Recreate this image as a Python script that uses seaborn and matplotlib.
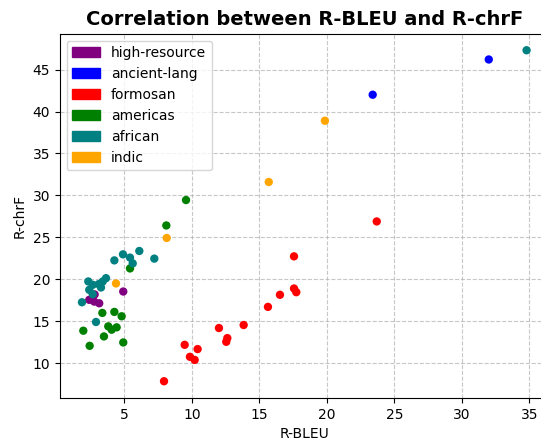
import matplotlib
matplotlib.use("Agg")
import matplotlib.pyplot as plt
from matplotlib.patches import Patch
import seaborn as sns
import pandas as pd

categories = ["high-resource", "ancient-lang", "formosan", "americas", "african", "indic"]
colors = ["purple", "blue", "red", "green", "teal", "orange"]

high_resource_x = [4.92, 2.40, 2.77, 3.14, 2.80]
high_resource_y = [18.55, 17.56, 17.35, 17.15, 18.2]

ancient_x = [32.0, 23.4]
ancient_y = [46.2, 42.0]

formosan_x = [23.7, 17.57, 16.53, 15.64, 17.57, 17.74, 12.01, 13.84, 12.63, 12.55, 9.47, 10.43, 9.86, 10.21, 7.94]
formosan_y = [26.9, 22.74, 18.16, 16.72, 18.91, 18.47, 14.2, 14.56, 13.0, 12.56, 12.2, 11.69, 10.77, 10.4, 7.86]

americas_x = [9.57, 8.11, 5.42, 3.37, 4.26, 4.80, 3.81, 4.06, 4.43, 3.49, 4.92, 1.96, 2.43]
americas_y = [29.45, 26.42, 21.3, 16.0, 16.12, 15.6, 14.4, 14.0, 14.28, 13.2, 12.48, 13.88, 12.08]

african_x = [34.8, 7.22, 4.90, 4.26, 6.11, 5.42, 5.62, 2.33, 2.66, 3.10, 3.40, 3.64, 3.27, 2.40, 2.66, 1.86, 2.90]
african_y = [47.3, 22.47, 22.98, 22.26, 23.38, 22.59, 21.9, 19.75, 19.35, 19.43, 19.75, 20.14, 19.03, 18.75, 18.23, 17.27, 14.92]

indic_x = [19.86, 15.7, 8.14, 4.38]
indic_y = [38.9, 31.6, 24.93, 19.51]

groups = {
    "high-resource": (high_resource_x, high_resource_y),
    "ancient-lang": (ancient_x, ancient_y),
    "formosan": (formosan_x, formosan_y),
    "americas": (americas_x, americas_y),
    "african": (african_x, african_y),
    "indic": (indic_x, indic_y),
}

rows = []
for cat in categories:
    xs, ys = groups[cat]
    for x, y in zip(xs, ys):
        rows.append({"R-BLEU": x, "R-chrF": y, "group": cat})
df = pd.DataFrame(rows)

fig = plt.figure(figsize=(5.41, 4.41), dpi=100)
ax = fig.add_axes([0.1104, 0.098, 0.904, 0.8256])

palette = dict(zip(categories, colors))
sns.scatterplot(data=df, x="R-BLEU", y="R-chrF", hue="group", palette=palette,
                hue_order=categories, s=36, linewidth=0, legend=False, ax=ax, zorder=3)

ax.grid(True, linestyle="--", alpha=0.7, zorder=0)
ax.set_axisbelow(True)
ax.set_title("Correlation between R-BLEU and R-chrF", fontsize=14, fontweight="bold")
ax.set_xlabel("R-BLEU")
ax.set_ylabel("R-chrF")

handles = [Patch(color=c, label=cat) for cat, c in zip(categories, colors)]
ax.legend(handles=handles, loc="upper left")

fig.savefig("out.png", dpi=100)
